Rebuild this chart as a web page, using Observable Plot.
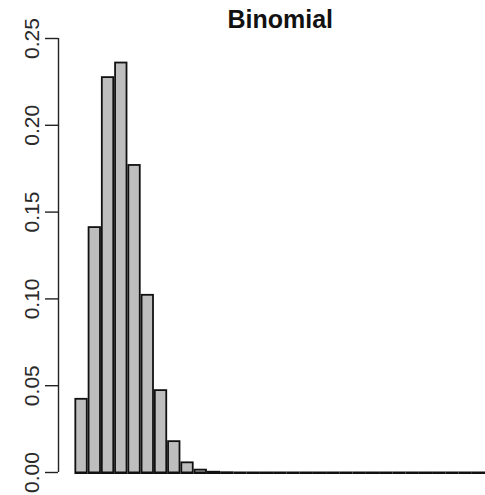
<!DOCTYPE html>
<html>
<head>
<meta charset="utf-8">
<script src="https://cdn.jsdelivr.net/npm/d3@7"></script>
<script src="https://cdn.jsdelivr.net/npm/@observablehq/plot@0.6"></script>
<style>
  html, body { margin: 0; padding: 0; background: #fff; }
  #chart svg { display: block; }
</style>
</head>
<body>
<div id="chart"></div>
<script>
// Outcomes k = 0..30 and their probabilities
const outcomes = [0, 1, 2, 3, 4, 5, 6, 7, 8, 9, 10, 11, 12, 13, 14, 15,
                  16, 17, 18, 19, 20, 21, 22, 23, 24, 25, 26, 27, 28, 29, 30];
const probs = [0.0424, 0.1413, 0.2277, 0.2361, 0.1771, 0.1023, 0.0474, 0.0180,
               0.0058, 0.0016, 0.0004, 0.0001, 0, 0, 0, 0,
               0, 0, 0, 0, 0, 0, 0, 0, 0, 0, 0, 0, 0, 0, 0];
const yTicks = [0, 0.05, 0.10, 0.15, 0.20, 0.25];
const title = "Binomial";

const data = outcomes.map((k, i) => ({k, p: probs[i]}));

// bars sit side by side on [k, k+1]; the plot region is padded 4% on each side
const xDomain = [-1.24, 32.24];
const font = "'Liberation Sans', Arial, Helvetica, sans-serif";

const chart = Plot.plot({
  width: 485,
  height: 495,
  marginLeft: 58,
  marginRight: 0,
  marginTop: 38,
  marginBottom: 23,
  style: {fontFamily: font, background: "#fff"},
  x: {domain: xDomain, range: [58, 501.5], axis: null},
  y: {domain: [0, 0.25], axis: null},
  marks: [
    // black outline layer (also forms the baseline for empty outcomes)
    Plot.rectY(data, {x1: d => d.k, x2: d => d.k + 1, y: "p", fill: "#111",
                      insetBottom: -2, insetTop: -0.5}),
    // grey fill inside the outline
    Plot.rectY(data, {x1: d => d.k, x2: d => d.k + 1, y: "p", fill: "#bebebe",
                      insetLeft: 1.8, insetRight: 1.8, insetTop: 1.3, insetBottom: 0.5}),
    // y axis spine and ticks
    Plot.ruleX([xDomain[0]], {y1: 0, y2: 0.25, stroke: "#222", strokeWidth: 1.4}),
    Plot.axisY({ticks: yTicks, tickSize: 13, tickFormat: () => "", label: null,
                stroke: "#222", strokeWidth: 1.4}),
    // rotated tick labels
    Plot.text(yTicks, {y: d => d, text: d => d.toFixed(2), frameAnchor: "left", dx: -26,
                       rotate: -90, fontSize: 21, fill: "#2a2a2a",
                       textAnchor: "middle", lineAnchor: "middle"}),
    // title
    Plot.text([title], {x: (xDomain[0] + xDomain[1]) / 2, frameAnchor: "top", dy: -19,
                        text: d => d, fontSize: 25, fontWeight: "bold", fill: "#111",
                        lineAnchor: "middle"})
  ]
});

document.getElementById("chart").appendChild(chart);
</script>
</body>
</html>
